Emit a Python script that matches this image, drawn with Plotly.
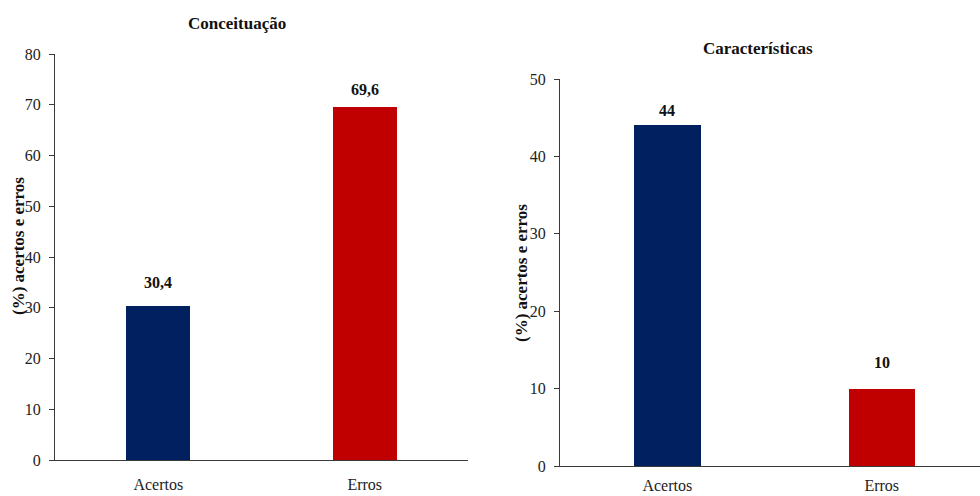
import plotly.graph_objects as go

# Data
categories = ["Acertos", "Erros"]
conceituacao = [30.4, 69.6]
caracteristicas = [44, 10]
conceituacao_labels = ["30,4", "69,6"]
caracteristicas_labels = ["44", "10"]
bar_colors = ["#002060", "#C00000"]

W, H = 980, 496
SERIF = "Liberation Serif, Times New Roman, serif"
AXIS_COLOR = "#3a3a3a"


def px_x(p):
    return p / W


def px_y(p):
    return 1 - p / H


fig = go.Figure()

fig.add_trace(go.Bar(x=categories, y=conceituacao, marker_color=bar_colors,
                     marker_line_width=0, width=0.31, xaxis="x", yaxis="y",
                     showlegend=False, hoverinfo="x+y"))
fig.add_trace(go.Bar(x=categories, y=caracteristicas, marker_color=bar_colors,
                     marker_line_width=0, width=0.31, xaxis="x2", yaxis="y2",
                     showlegend=False, hoverinfo="x+y"))

tick_font = dict(family=SERIF, size=16, color="#222")

common_y = dict(showline=True, linecolor=AXIS_COLOR, linewidth=1, ticks="outside",
                ticklen=5, tickcolor=AXIS_COLOR, showgrid=False, zeroline=False,
                tickfont=tick_font, fixedrange=True, automargin=False, ticklabelstandoff=5)
common_x = dict(showline=True, linecolor=AXIS_COLOR, linewidth=1, ticks="",
                showgrid=False, zeroline=False, tickfont=tick_font, fixedrange=True,
                automargin=False)

fig.update_layout(
    width=W, height=H,
    margin=dict(l=0, r=0, t=0, b=0),
    paper_bgcolor="white", plot_bgcolor="white",
    bargap=0,
    xaxis=dict(domain=[px_x(55), px_x(468)], range=[-0.5, 1.5], anchor="y",
               ticklabelstandoff=10, **common_x),
    yaxis=dict(domain=[px_y(460), px_y(54)], range=[0, 80], dtick=10, anchor="x", **common_y),
    xaxis2=dict(domain=[px_x(560), 1.0], range=[-0.5, 1.458], anchor="y2",
                ticklabelstandoff=5, **common_x),
    yaxis2=dict(domain=[px_y(466), px_y(79)], range=[0, 50], dtick=10, anchor="x2", **common_y),
)

annotations = []
label_font = dict(family=SERIF, size=16, color="#111")
title_font = dict(family=SERIF, size=17, color="#111")

# Value labels above each bar
label_shift_left = [23, 17]
for cat, val, lab, s in zip(categories, conceituacao, conceituacao_labels, label_shift_left):
    annotations.append(dict(x=cat, y=val, xref="x", yref="y", text=f"<b>{lab}</b>",
                            showarrow=False, yshift=s, font=label_font))
label_shift_right = [15, 26]
for cat, val, lab, s in zip(categories, caracteristicas, caracteristicas_labels, label_shift_right):
    annotations.append(dict(x=cat, y=val, xref="x2", yref="y2", text=f"<b>{lab}</b>",
                            showarrow=False, yshift=s, font=label_font))

# Panel titles
annotations.append(dict(x=px_x(237), y=px_y(23), xref="paper", yref="paper",
                        xanchor="center", yanchor="middle",
                        text="<b>Conceituação</b>", showarrow=False, font=title_font))
annotations.append(dict(x=px_x(758), y=px_y(49), xref="paper", yref="paper",
                        xanchor="center", yanchor="middle",
                        text="<b>Características</b>", showarrow=False, font=title_font))

# Y axis titles
annotations.append(dict(x=px_x(18), y=px_y(246), xref="paper", yref="paper",
                        xanchor="center", yanchor="middle",
                        text="<b>(%) acertos e erros</b>", textangle=-90, showarrow=False,
                        font=title_font))
annotations.append(dict(x=px_x(521), y=px_y(273), xref="paper", yref="paper",
                        xanchor="center", yanchor="middle",
                        text="<b>(%) acertos e erros</b>", textangle=-90, showarrow=False,
                        font=title_font))

fig.update_layout(annotations=annotations)

fig.write_html("out.html")
